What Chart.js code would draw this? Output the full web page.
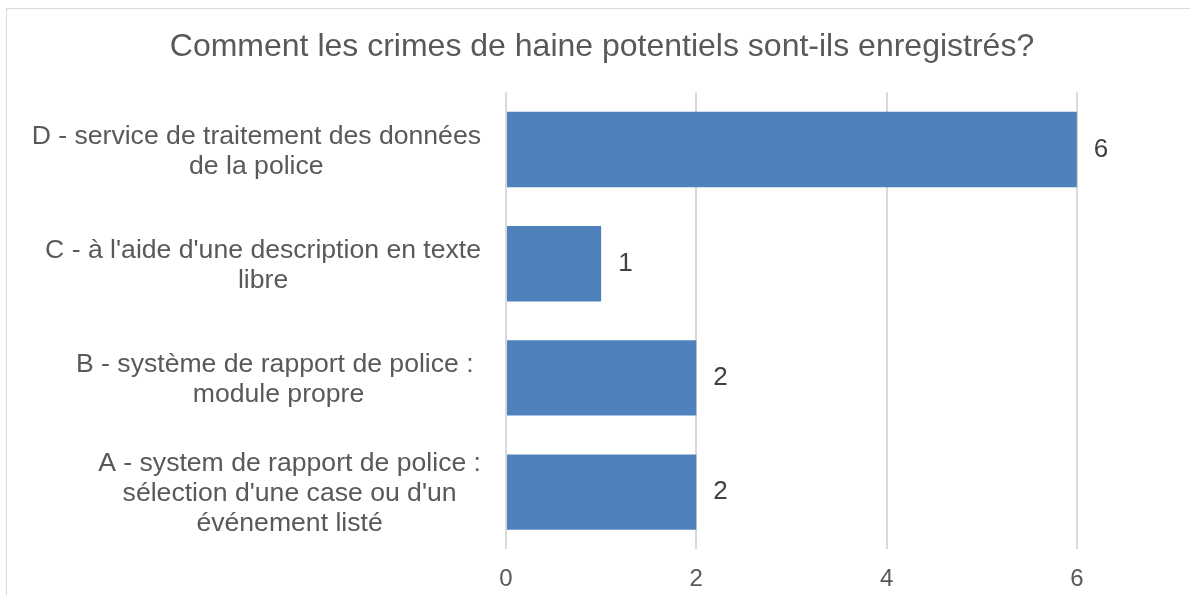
<!DOCTYPE html>
<html>
<head>
<meta charset="utf-8">
<script src="https://cdn.jsdelivr.net/npm/chart.js@4/dist/chart.umd.min.js"></script>
<style>
  html, body { margin: 0; padding: 0; background: #fff; overflow: hidden; }
  #frame {
    position: absolute; left: 6px; top: 8px;
    width: 1200px; height: 620px;
    border: 1px solid #d9d9d9;
  }
  #wrap { position: absolute; left: 0; top: 0; width: 1190px; height: 606px; }
</style>
</head>
<body>
<div id="frame"><div id="wrap"><canvas id="chart"></canvas></div></div>
<script>
const chartTitle = "Comment les crimes de haine potentiels sont-ils enregistrés?";
const categories = [
    ["D - service de traitement des données", "de la police"],
    ["C - à l'aide d'une description en texte", "libre"],
    ["B - système de rapport de police : ", "module propre"],
    ["A - system de rapport de police :", "sélection d'une case ou d'un", "événement listé"]
];
const values = [6, 1, 2, 2];
const xTicks = [0, 2, 4, 6];

const FONT = "'Liberation Sans', Arial, sans-serif";

// category labels: each block right-aligned to the axis, lines centred inside the block
const categoryLabels = {
    id: 'categoryLabels',
    afterDraw(chart) {
        const ctx = chart.ctx;
        const scale = chart.scales.y;
        const lineH = 30;
        ctx.save();
        ctx.font = "26.6px " + FONT;
        ctx.fillStyle = '#595959';
        ctx.textAlign = 'center';
        ctx.textBaseline = 'middle';
        categories.forEach((lines, i) => {
            const w = Math.max(...lines.map(l => ctx.measureText(l).width));
            const cx = scale.right - 25 - w / 2;
            const cy = scale.getPixelForTick(i) + 2;
            const top = cy - (lines.length - 1) * lineH / 2;
            lines.forEach((l, j) => ctx.fillText(l, cx, top + j * lineH));
        });
        ctx.restore();
    }
};

const valueLabels = {
    id: 'valueLabels',
    afterDatasetsDraw(chart) {
        const ctx = chart.ctx;
        const meta = chart.getDatasetMeta(0);
        ctx.save();
        ctx.font = "26px " + FONT;
        ctx.fillStyle = '#404040';
        ctx.textAlign = 'left';
        ctx.textBaseline = 'middle';
        meta.data.forEach((bar, i) => {
            ctx.fillText(String(values[i]), bar.x + 17, bar.y);
        });
        ctx.restore();
    }
};

new Chart(document.getElementById('chart'), {
    type: 'bar',
    data: {
        labels: categories,
        datasets: [{
            data: values,
            backgroundColor: '#4f81bd',
            borderWidth: 0,
            categoryPercentage: 1,
            barPercentage: 0.66
        }]
    },
    options: {
        indexAxis: 'y',
        responsive: true,
        maintainAspectRatio: false,
        animation: false,
        layout: { padding: { left: 25, right: 25, top: 0, bottom: 5 } },
        plugins: {
            legend: { display: false },
            tooltip: { enabled: false },
            title: {
                display: true,
                text: chartTitle,
                color: '#595959',
                font: { family: FONT, size: 32, weight: 'normal' },
                padding: { top: 19, bottom: 26 }
            }
        },
        scales: {
            x: {
                min: 0,
                max: 7,
                afterBuildTicks: axis => { axis.ticks = xTicks.map(v => ({ value: v })); },
                grid: { color: '#d9d9d9', lineWidth: 2, drawTicks: false },
                border: { display: false },
                ticks: {
                    color: '#595959',
                    font: { family: FONT, size: 24 },
                    padding: 16
                }
            },
            y: {
                grid: { display: false },
                border: { display: false },
                ticks: { display: false },
                afterFit: scale => { scale.width = 474; }
            }
        }
    },
    plugins: [categoryLabels, valueLabels]
});
</script>
</body>
</html>
